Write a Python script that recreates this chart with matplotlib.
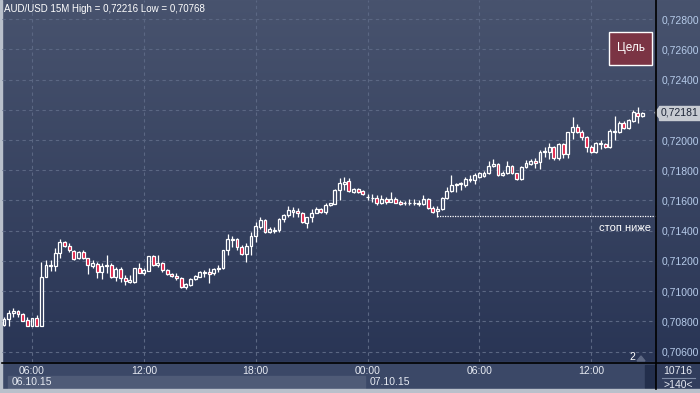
import numpy as np
import pandas as pd
import matplotlib
matplotlib.use("Agg")
import matplotlib.pyplot as plt
import matplotlib.transforms as mtransforms
from matplotlib.patches import Rectangle, Polygon

plt.rcParams['font.family'] = ['Liberation Sans', 'DejaVu Sans']

# 15-minute AUD/USD candles, 06.10.15 04:30 .. 07.10.15 14:45
opens = [0.70776, 0.70814, 0.70853, 0.70869, 0.70847, 0.70809, 0.70771, 0.70820, 0.70771, 0.71096,
         0.71167, 0.71167, 0.71251, 0.71327, 0.71301, 0.71268, 0.71218, 0.71261, 0.71218, 0.71169,
         0.71178, 0.71129, 0.71167, 0.71173, 0.71096, 0.71145, 0.71085, 0.71063, 0.71063, 0.71151,
         0.71118, 0.71135, 0.71233, 0.71173, 0.71184, 0.71140, 0.71114, 0.71100, 0.71085, 0.71030,
         0.71041, 0.71079, 0.71096, 0.71122, 0.71129, 0.71118, 0.71145, 0.71151, 0.71272, 0.71339,
         0.71343, 0.71290, 0.71244, 0.71299, 0.71365, 0.71427, 0.71471, 0.71394, 0.71400, 0.71405,
         0.71476, 0.71504, 0.71526, 0.71531, 0.71519, 0.71453, 0.71489, 0.71519, 0.71542, 0.71526,
         0.71572, 0.71577, 0.71670, 0.71709, 0.71729, 0.71658, 0.71674, 0.71663, 0.71625, 0.71617,
         0.71615, 0.71586, 0.71608, 0.71592, 0.71608, 0.71592, 0.71584, 0.71582, 0.71584, 0.71579,
         0.71575, 0.71608, 0.71549, 0.71533, 0.71542, 0.71615, 0.71663, 0.71703, 0.71709, 0.71703,
         0.71736, 0.71736, 0.71758, 0.71762, 0.71780, 0.71829, 0.71840, 0.71767, 0.71780, 0.71829,
         0.71780, 0.71740, 0.71820, 0.71842, 0.71862, 0.71857, 0.71919, 0.71923, 0.71956, 0.71880,
         0.71974, 0.71906, 0.72052, 0.72085, 0.72056, 0.72023, 0.71956, 0.71923, 0.71972, 0.71974,
         0.71952, 0.72052, 0.72056, 0.72111, 0.72078, 0.72128, 0.72181, 0.72160]
highs = [0.70829, 0.70875, 0.70887, 0.70875, 0.70853, 0.70827, 0.70822, 0.70842, 0.71195, 0.71206,
         0.71206, 0.71284, 0.71343, 0.71332, 0.71317, 0.71272, 0.71266, 0.71272, 0.71218, 0.71206,
         0.71195, 0.71184, 0.71239, 0.71184, 0.71162, 0.71158, 0.71107, 0.71107, 0.71151, 0.71184,
         0.71151, 0.71233, 0.71239, 0.71239, 0.71195, 0.71145, 0.71118, 0.71118, 0.71096, 0.71052,
         0.71085, 0.71107, 0.71133, 0.71140, 0.71155, 0.71155, 0.71173, 0.71272, 0.71378, 0.71365,
         0.71350, 0.71306, 0.71321, 0.71394, 0.71460, 0.71493, 0.71478, 0.71427, 0.71423, 0.71486,
         0.71511, 0.71564, 0.71560, 0.71549, 0.71526, 0.71493, 0.71542, 0.71555, 0.71549, 0.71582,
         0.71586, 0.71674, 0.71747, 0.71758, 0.71749, 0.71685, 0.71685, 0.71670, 0.71641, 0.71641,
         0.71637, 0.71637, 0.71621, 0.71658, 0.71625, 0.71603, 0.71599, 0.71608, 0.71608, 0.71603,
         0.71637, 0.71615, 0.71564, 0.71564, 0.71621, 0.71692, 0.71769, 0.71718, 0.71725, 0.71758,
         0.71769, 0.71784, 0.71791, 0.71797, 0.71862, 0.71873, 0.71850, 0.71797, 0.71862, 0.71835,
         0.71784, 0.71829, 0.71868, 0.71873, 0.71880, 0.71934, 0.71956, 0.71979, 0.71963, 0.71983,
         0.71979, 0.72056, 0.72155, 0.72107, 0.72067, 0.72027, 0.71968, 0.71989, 0.72001, 0.71983,
         0.72071, 0.72160, 0.72128, 0.72128, 0.72138, 0.72199, 0.72216, 0.72188]
lows = [0.70769, 0.70769, 0.70827, 0.70827, 0.70804, 0.70768, 0.70769, 0.70768, 0.70768, 0.71096,
        0.71135, 0.71135, 0.71218, 0.71294, 0.71261, 0.71206, 0.71213, 0.71213, 0.71112, 0.71151,
        0.71085, 0.71079, 0.71118, 0.71085, 0.71069, 0.71063, 0.71041, 0.71052, 0.71056, 0.71118,
        0.71107, 0.71135, 0.71167, 0.71162, 0.71129, 0.71107, 0.71096, 0.71074, 0.71019, 0.71014,
        0.71036, 0.71074, 0.71092, 0.71096, 0.71056, 0.71107, 0.71129, 0.71145, 0.71239, 0.71290,
        0.71272, 0.71239, 0.71195, 0.71239, 0.71327, 0.71410, 0.71383, 0.71383, 0.71383, 0.71394,
        0.71460, 0.71493, 0.71493, 0.71493, 0.71449, 0.71416, 0.71460, 0.71515, 0.71515, 0.71511,
        0.71564, 0.71575, 0.71603, 0.71670, 0.71656, 0.71652, 0.71648, 0.71637, 0.71603, 0.71592,
        0.71570, 0.71577, 0.71577, 0.71592, 0.71582, 0.71570, 0.71570, 0.71570, 0.71570, 0.71564,
        0.71570, 0.71542, 0.71519, 0.71493, 0.71537, 0.71608, 0.71658, 0.71658, 0.71670, 0.71692,
        0.71725, 0.71709, 0.71747, 0.71754, 0.71776, 0.71824, 0.71762, 0.71762, 0.71776, 0.71776,
        0.71736, 0.71736, 0.71813, 0.71835, 0.71813, 0.71807, 0.71890, 0.71873, 0.71868, 0.71868,
        0.71880, 0.71880, 0.72005, 0.72045, 0.72001, 0.71923, 0.71917, 0.71917, 0.71939, 0.71946,
        0.71946, 0.72001, 0.72049, 0.72071, 0.72071, 0.72122, 0.72115, 0.72155]
closes = [0.70814, 0.70853, 0.70869, 0.70849, 0.70804, 0.70771, 0.70820, 0.70771, 0.71096, 0.71173,
          0.71173, 0.71251, 0.71327, 0.71301, 0.71272, 0.71213, 0.71261, 0.71218, 0.71173, 0.71184,
          0.71129, 0.71167, 0.71173, 0.71096, 0.71145, 0.71085, 0.71069, 0.71074, 0.71151, 0.71118,
          0.71140, 0.71233, 0.71173, 0.71184, 0.71140, 0.71112, 0.71100, 0.71085, 0.71030, 0.71045,
          0.71079, 0.71100, 0.71125, 0.71129, 0.71112, 0.71145, 0.71151, 0.71272, 0.71343, 0.71343,
          0.71290, 0.71244, 0.71299, 0.71365, 0.71431, 0.71471, 0.71394, 0.71410, 0.71405, 0.71476,
          0.71504, 0.71537, 0.71537, 0.71515, 0.71460, 0.71489, 0.71519, 0.71542, 0.71526, 0.71570,
          0.71582, 0.71670, 0.71714, 0.71725, 0.71663, 0.71674, 0.71658, 0.71641, 0.71623, 0.71615,
          0.71586, 0.71608, 0.71592, 0.71608, 0.71586, 0.71577, 0.71581, 0.71584, 0.71584, 0.71581,
          0.71608, 0.71549, 0.71526, 0.71542, 0.71615, 0.71663, 0.71703, 0.71707, 0.71714, 0.71740,
          0.71740, 0.71769, 0.71780, 0.71784, 0.71829, 0.71840, 0.71769, 0.71780, 0.71829, 0.71780,
          0.71740, 0.71824, 0.71846, 0.71864, 0.71846, 0.71923, 0.71928, 0.71956, 0.71883, 0.71974,
          0.71906, 0.72052, 0.72085, 0.72056, 0.72023, 0.71956, 0.71923, 0.71979, 0.71979, 0.71952,
          0.72062, 0.72060, 0.72111, 0.72078, 0.72133, 0.72188, 0.72160, 0.72181]

start_time = "2015-10-06 04:30"
price_ticks = [0.706, 0.708, 0.710, 0.712, 0.714, 0.716, 0.718, 0.720, 0.722, 0.724, 0.726, 0.728]
stop_level = 0.71500
stop_from = 93          # candle index where the stop line begins
title = "AUD/USD 15M High = 0,72216 Low = 0,70768"

times = pd.date_range(start_time, periods=len(opens), freq="15min")
o = np.array(opens); h = np.array(highs); l = np.array(lows); c = np.array(closes)
idx = np.arange(len(o))

W, H = 700, 393
def fx(x): return x / W
def fy(y): return 1 - y / H

fig = plt.figure(figsize=(7, 3.93), dpi=100)

# background (gradient, bottom panel, borders) on a full-figure axes
bg = fig.add_axes([0, 0, 1, 1])
grad = np.linspace(0, 1, 256)[:, None]
top = np.array([0x48, 0x53, 0x6e]) / 255
bot = np.array([0x29, 0x35, 0x55]) / 255
img = top[None, None, :] * (1 - grad[..., None]) + bot[None, None, :] * grad[..., None]
bg.imshow(img, aspect='auto', extent=[0, 1, fy(362), 1])
bg.imshow(np.array([[[0x31, 0x3d, 0x5c]]]) / 255, aspect='auto', extent=[0, 1, 0, fy(362)])
bg.add_patch(Rectangle((fx(2), fy(389)), fx(654), fy(362) - fy(389), color='#3b4867'))
bg.add_patch(Rectangle((fx(8), fy(388)), fx(357), fy(376) - fy(388), color='#4f5b77'))
bg.add_patch(Rectangle((fx(645), fy(388)), fx(10), fy(365) - fy(388), color='#232f4c'))
bg.add_patch(Rectangle((0, 0), 1, fy(389), color='#b9c0cb'))
bg.add_patch(Rectangle((0, 0), fx(2), 1, color='#b9c0cb'))
bg.plot([fx(662), fx(695)], [fy(378), fy(378)], color='#7d8aa4', lw=0.8)
bg.add_patch(Polygon([[fx(637), fy(361)], [fx(645), fy(361)], [fx(641), fy(356)]],
                     closed=True, color='#5d6884'))
bg.set_xlim(0, 1); bg.set_ylim(0, 1)
bg.axis('off')

ax = fig.add_axes([fx(2), fy(362), fx(654), fy(0) - fy(362)])
ax.set_facecolor('none')
ax.set_xlim(-0.43, 139.9)
ax.set_ylim(0.70531, 0.72927)

# grid
for p in price_ticks:
    ax.axhline(p, color='#5b6783', lw=0.8, ls=(0, (3, 3)), zorder=1)
hour_ticks = [i for i, t in enumerate(times) if t.minute == 0 and t.hour % 6 == 0]
for i in hour_ticks:
    ax.axvline(i, color='#5b6783', lw=0.8, ls=(0, (3, 3)), zorder=1)

# candles
body_lo = np.minimum(o, c)
body_hi = np.maximum(o, c)
ax.vlines(idx, body_hi, h, color='white', lw=0.9, zorder=3)
ax.vlines(idx, l, body_lo, color='white', lw=0.9, zorder=3)
up = c >= o
ax.bar(idx[up], body_hi[up] - body_lo[up], bottom=body_lo[up], width=0.62,
       facecolor='none', edgecolor='white', linewidth=0.9, zorder=4)
ax.bar(idx[~up], body_hi[~up] - body_lo[~up], bottom=body_lo[~up], width=0.62,
       facecolor='#e0163e', edgecolor='white', linewidth=0.9, zorder=4)

# stop line
ax.hlines(stop_level, stop_from, 139.9, color='white', lw=0.9, ls=(0, (1, 1)), zorder=2)
ax.text(0.992, stop_level - 0.00082, "стоп ниже", transform=ax.get_yaxis_transform(),
        ha='right', va='center', color='white', fontsize=8)

# axes formatting
for s in ax.spines.values():
    s.set_visible(False)
fig.lines.append(plt.Line2D([fx(2), 1], [fy(362.5), fy(362.5)], transform=fig.transFigure,
                            color='black', lw=1.2))
fig.lines.append(plt.Line2D([fx(656), fx(656)], [fy(389), 1], transform=fig.transFigure,
                            color='black', lw=1.2))

ax.yaxis.tick_right()
ax.set_yticks(price_ticks)
last = closes[-1]
# the 0,72200 label sits under the current-price marker
ax.set_yticklabels(["" if abs(p - last) < 0.0005 else f"{p:.5f}".replace('.', ',')
                    for p in price_ticks])
ax.tick_params(axis='y', length=0, pad=4, labelsize=7.5, labelcolor='#b6cbea')
ax.set_xticks(hour_ticks)
ax.set_xticklabels([times[i].strftime('%H:%M') for i in hour_ticks])
ax.tick_params(axis='x', length=0, pad=3, labelsize=7.5, labelcolor='#e6eaf2')

# current price marker
trans = mtransforms.blended_transform_factory(fig.transFigure, ax.transData)
ax.text(fx(661), last, f"{last:.5f}".replace('.', ','), transform=trans, ha='left', va='center',
        fontsize=7.5, color='#1c2436', zorder=6,
        bbox=dict(boxstyle='square,pad=0.2', fc='#c7cbd2', ec='#c7cbd2'))
ax.add_patch(Polygon([[fx(655), last], [fx(660), last + 0.0004], [fx(660), last - 0.0004]],
                     closed=True, transform=trans, color='#c7cbd2', clip_on=False, zorder=6))

# texts
fig.text(fx(4), fy(9), title, ha='left', va='center', color='white', fontsize=7)
fig.text(fx(12), fy(382), "06.10.15", ha='left', va='center', color='#e6eaf2', fontsize=7.5)
fig.text(fx(370), fy(382), "07.10.15", ha='left', va='center', color='#e6eaf2', fontsize=7.5)
fig.text(fx(678), fy(371), "10716", ha='center', va='center', color='#e6eaf2', fontsize=7.5)
fig.text(fx(678), fy(385), ">140<", ha='center', va='center', color='#e6eaf2', fontsize=7.5)
fig.text(fx(632), fy(357), "2", ha='center', va='center', color='white', fontsize=7.5)

# target box
fig.patches.append(Rectangle((fx(609), fy(65)), fx(43), fy(32) - fy(65), transform=fig.transFigure,
                             fc='#7b3444', ec='white', lw=1.0, zorder=5))
fig.text(fx(630.5), fy(48.5), "Цель", ha='center', va='center', color='white', fontsize=8.5, zorder=6)

fig.savefig("out.png", dpi=100)
